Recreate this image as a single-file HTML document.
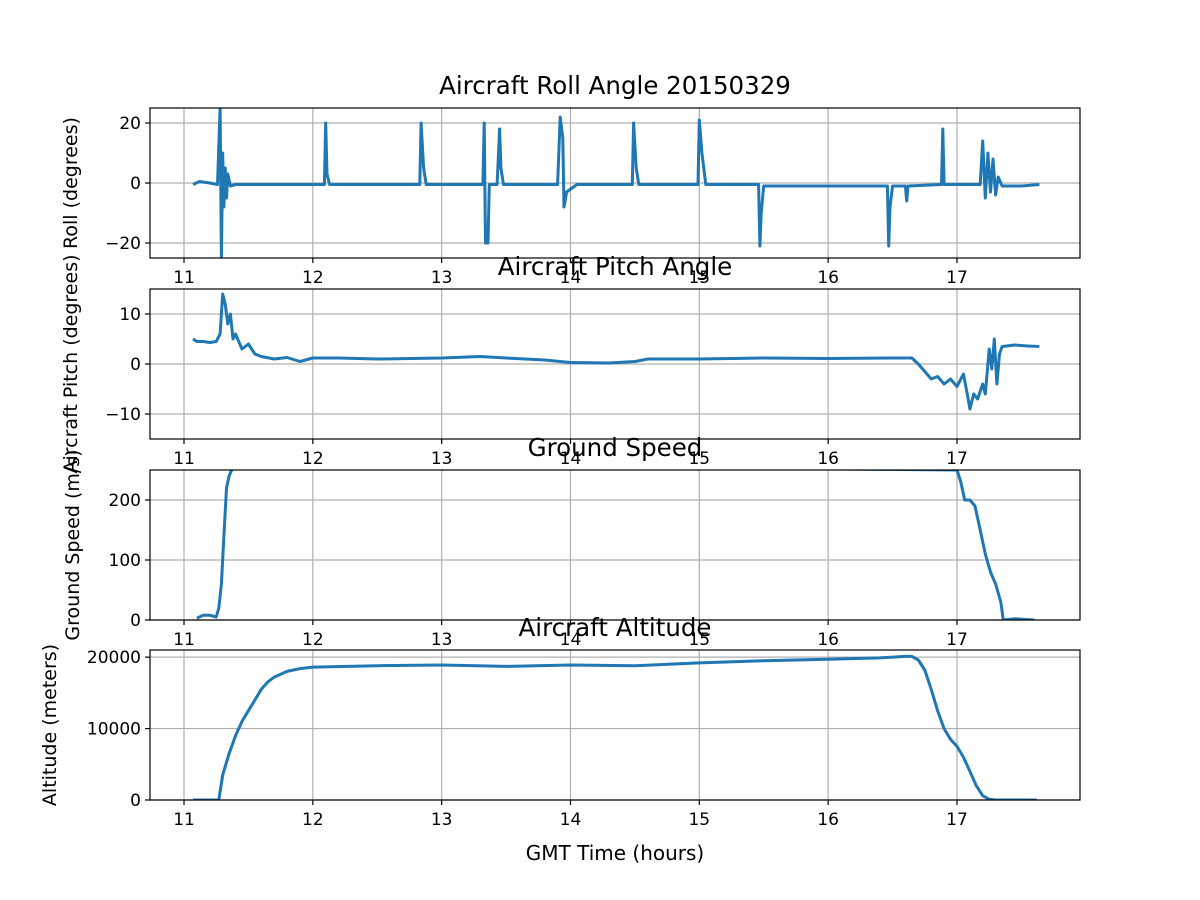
<!DOCTYPE html>
<html><head><meta charset="utf-8"><style>
body{margin:0;background:#fff;}
svg{display:block;font-family:"DejaVu Sans","Liberation Sans",sans-serif;}
</style></head><body>
<svg id="chart" width="1200" height="900" viewBox="0 0 1200 900"></svg>
<script>
// ---- data ----
const xTicks = [11,12,13,14,15,16,17];
const rollT = [11.07,11.12,11.2,11.26,11.28,11.29,11.3,11.31,11.32,11.33,11.34,11.36,11.4,12.09,12.1,12.11,12.13,12.83,12.84,12.86,12.88,13.32,13.33,13.34,13.36,13.37,13.43,13.45,13.46,13.48,13.9,13.92,13.94,13.95,13.97,14.05,14.48,14.49,14.51,14.53,14.99,15.0,15.02,15.05,15.46,15.47,15.48,15.5,16.46,16.47,16.48,16.5,16.6,16.61,16.62,16.88,16.89,16.9,17.18,17.2,17.22,17.24,17.26,17.28,17.3,17.32,17.35,17.5,17.64];
const rollV = [-0.5,0.5,0,-0.5,25,-25,10,-8,5,-5,3,-1,-0.5,-0.5,20,3,-0.5,-0.5,20,5,-0.5,-0.5,20,-20,-20,-0.5,-0.5,18,5,-0.5,-0.5,22,15,-8,-3,-0.5,-0.5,20,5,-0.5,-0.5,21,10,-0.5,-0.5,-21,-10,-1,-1,-21,-8,-1,-1,-6,-1,-0.5,18,-0.5,-0.5,14,-5,10,-3,8,-4,2,-1,-1,-0.5];
const pitchT = [11.07,11.1,11.15,11.2,11.25,11.28,11.3,11.32,11.34,11.36,11.38,11.4,11.45,11.5,11.55,11.6,11.7,11.8,11.9,12.0,12.2,12.5,13.0,13.3,13.5,13.8,14.0,14.3,14.5,14.6,15.0,15.5,16.0,16.5,16.65,16.7,16.75,16.8,16.85,16.9,16.95,17.0,17.05,17.08,17.1,17.13,17.16,17.2,17.22,17.25,17.27,17.29,17.31,17.33,17.35,17.45,17.55,17.64];
const pitchV = [5,4.5,4.5,4.3,4.5,6,14,12,8,10,5,6,3,4,2,1.5,1,1.3,0.5,1.2,1.2,1,1.2,1.5,1.2,0.8,0.3,0.2,0.5,1,1,1.2,1.1,1.2,1.2,0,-1.5,-3,-2.5,-4,-3,-4.5,-2,-6,-9,-6,-7,-4,-6,3,-1,5,-4,2,3.5,3.8,3.6,3.5];
const speedT = [11.1,11.15,11.2,11.25,11.27,11.29,11.31,11.33,11.35,11.37,11.4,17.0,17.03,17.06,17.1,17.14,17.18,17.22,17.26,17.3,17.34,17.36,17.45,17.6];
const speedV = [3,8,8,5,20,60,140,220,240,250,260,250,230,200,200,190,150,110,80,60,30,0,2,0];
const altT = [11.07,11.2,11.27,11.3,11.35,11.4,11.45,11.5,11.55,11.6,11.65,11.7,11.8,11.9,12.0,12.5,13.0,13.5,14.0,14.5,15.0,15.5,16.0,16.4,16.6,16.65,16.7,16.75,16.8,16.85,16.9,16.95,17.0,17.05,17.1,17.15,17.2,17.25,17.3,17.35,17.45,17.62];
const altV = [0,0,0,3500,6500,9000,11000,12500,14000,15500,16500,17200,18000,18400,18600,18800,18900,18700,18900,18800,19200,19500,19700,19900,20100,20100,19600,18200,15500,12500,10000,8500,7500,6000,4000,2000,600,100,0,0,0,0];

// ---- layout ----
const X0=150,X1=1080,XMIN=10.736,XMAX=17.955;
const sx=t=>X0+(t-XMIN)/(XMAX-XMIN)*(X1-X0);
const panels=[
 {name:'roll',top:108,bot:258,ymin:-25,ymax:25,ticks:[-20,0,20],tl:['\u221220','0','20'],title:'Aircraft Roll Angle 20150329',ylabel:'Roll (degrees)',yx:77,T:rollT,V:rollV},
 {name:'pitch',top:289,bot:439,ymin:-15,ymax:15,ticks:[-10,0,10],tl:['\u221210','0','10'],title:'Aircraft Pitch Angle',ylabel:'Aircraft Pitch (degrees)',yx:77,T:pitchT,V:pitchV},
 {name:'speed',top:470,bot:620,ymin:0,ymax:250,ticks:[0,100,200],tl:['0','100','200'],title:'Ground Speed',ylabel:'Ground Speed (m/s)',yx:79,T:speedT,V:speedV},
 {name:'altitude',top:650,bot:800,ymin:0,ymax:21000,ticks:[0,10000,20000],tl:['0','10000','20000'],title:'Aircraft Altitude',ylabel:'Altitude (meters)',yx:56,T:altT,V:altV}
];
const svg=document.getElementById('chart');
const NS='http://www.w3.org/2000/svg';
function mk(tag,attrs,parent){const e=document.createElementNS(NS,tag);for(const k in attrs)e.setAttribute(k,attrs[k]);(parent||svg).appendChild(e);return e;}
const defs=mk('defs',{});
panels.forEach((p,i)=>{
  const sy=v=>p.bot-(v-p.ymin)/(p.ymax-p.ymin)*(p.bot-p.top);
  const g=mk('g',{});
  
  
  const cp=mk('clipPath',{id:'c'+i},defs);
  mk('rect',{x:X0,y:p.top,width:X1-X0,height:p.bot-p.top},cp);
  xTicks.forEach(t=>{
    const gl=mk('line',{x1:sx(t),x2:sx(t),y1:p.top,y2:p.bot,stroke:'#b0b0b0','stroke-width':1.2},g);
    
    
    mk('line',{x1:sx(t),x2:sx(t),y1:p.bot,y2:p.bot+5,stroke:'#000','stroke-width':1.2},g);
    const tx=mk('text',{x:sx(t),y:p.bot+25,'text-anchor':'middle','font-size':17},g);
    tx.textContent=t;
    
    
  });
  p.ticks.forEach((v,j)=>{
    mk('line',{x1:X0,x2:X1,y1:sy(v),y2:sy(v),stroke:'#b0b0b0','stroke-width':1.2},g);
    mk('line',{x1:X0-5,x2:X0,y1:sy(v),y2:sy(v),stroke:'#000','stroke-width':1.2},g);
    const tx=mk('text',{x:X0-9,y:sy(v)+6,'text-anchor':'end','font-size':17},g);
    tx.textContent=p.tl[j];
    
    
  });
  let d='';
  p.T.forEach((t,k)=>{d+=(k?'L':'M')+sx(t).toFixed(1)+','+sy(p.V[k]).toFixed(1);});
  const path=mk('path',{d:d,fill:'none',stroke:'#1f77b4','stroke-width':3,'stroke-linejoin':'round','clip-path':'url(#c'+i+')'},g);
  
  
  mk('rect',{x:X0,y:p.top,width:X1-X0,height:p.bot-p.top,fill:'none',stroke:'#000','stroke-width':1.2},g);
  const ti=mk('text',{x:615,y:p.top-14,'text-anchor':'middle','font-size':24.5},g);
  ti.textContent=p.title;
  
  
  const cy=(p.top+p.bot)/2;
  const yl=mk('text',{x:p.yx,y:cy,'text-anchor':'middle','font-size':19,transform:'rotate(-90 '+p.yx+' '+cy+')'},g);
  yl.textContent=p.ylabel;
  
  
});
const xl=mk('text',{x:615,y:860,'text-anchor':'middle','font-size':20});
xl.textContent='GMT Time (hours)';


</script>
</body></html>
